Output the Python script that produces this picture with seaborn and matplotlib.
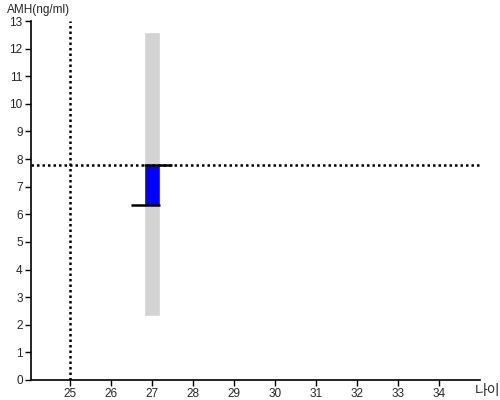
import matplotlib
matplotlib.use("Agg")
import matplotlib.pyplot as plt
import seaborn as sns

# Data
age = 27
range_low, range_high = 2.3, 12.6      # gray reference range
amh_low, amh_high = 6.35, 7.78         # blue measured band
ref_age = 25                           # vertical dotted line
ref_amh = 7.78                         # horizontal dotted line
x_ticks = [25, 26, 27, 28, 29, 30, 31, 32, 33, 34]
y_ticks = list(range(0, 14))

sns.set_style("white")
plt.rcParams['font.family'] = ['Liberation Sans', 'Noto Sans CJK KR', 'DejaVu Sans']

fig = plt.figure(figsize=(5, 4), dpi=100)
ax = fig.add_axes([0.062, 0.05, 0.898, 0.8975])

# gray range bar
ax.bar(age, range_high - range_low, bottom=range_low, width=0.4, color='#d3d3d3', zorder=1)
# blue band
ax.bar(age, amh_high - amh_low, bottom=amh_low, width=0.4, color='#0000ff', zorder=2)
# black markers
ax.hlines(amh_low, age - 0.5, age + 0.2, color='black', lw=1.8, zorder=3)
ax.hlines(amh_high, age - 0.2, age + 0.5, color='black', lw=1.8, zorder=3)

# dotted reference lines
ax.axvline(ref_age, color='black', ls=(0, (1, 1.2)), lw=1.8, zorder=4)
ax.axhline(ref_amh, color='black', ls=(0, (1, 1.2)), lw=1.8, zorder=4)

ax.set_xlim(24.05, 35)
ax.set_ylim(0, 13)
ax.set_xticks(x_ticks)
ax.set_yticks(y_ticks)
ax.tick_params(axis='both', labelsize=8.5, length=4, width=1, color='black', direction='out',
               left=True, bottom=True, pad=2)
sns.despine(ax=ax)
for s in ['left', 'bottom']:
    ax.spines[s].set_color('black')
    ax.spines[s].set_linewidth(1.2)

fig.text(0.014, 0.975, 'AMH(ng/ml)', fontsize=8.5, va='center', ha='left')
fig.text(0.950, 0.022, '나이', fontsize=10, va='center', ha='left')

fig.savefig('out.png', dpi=100)
